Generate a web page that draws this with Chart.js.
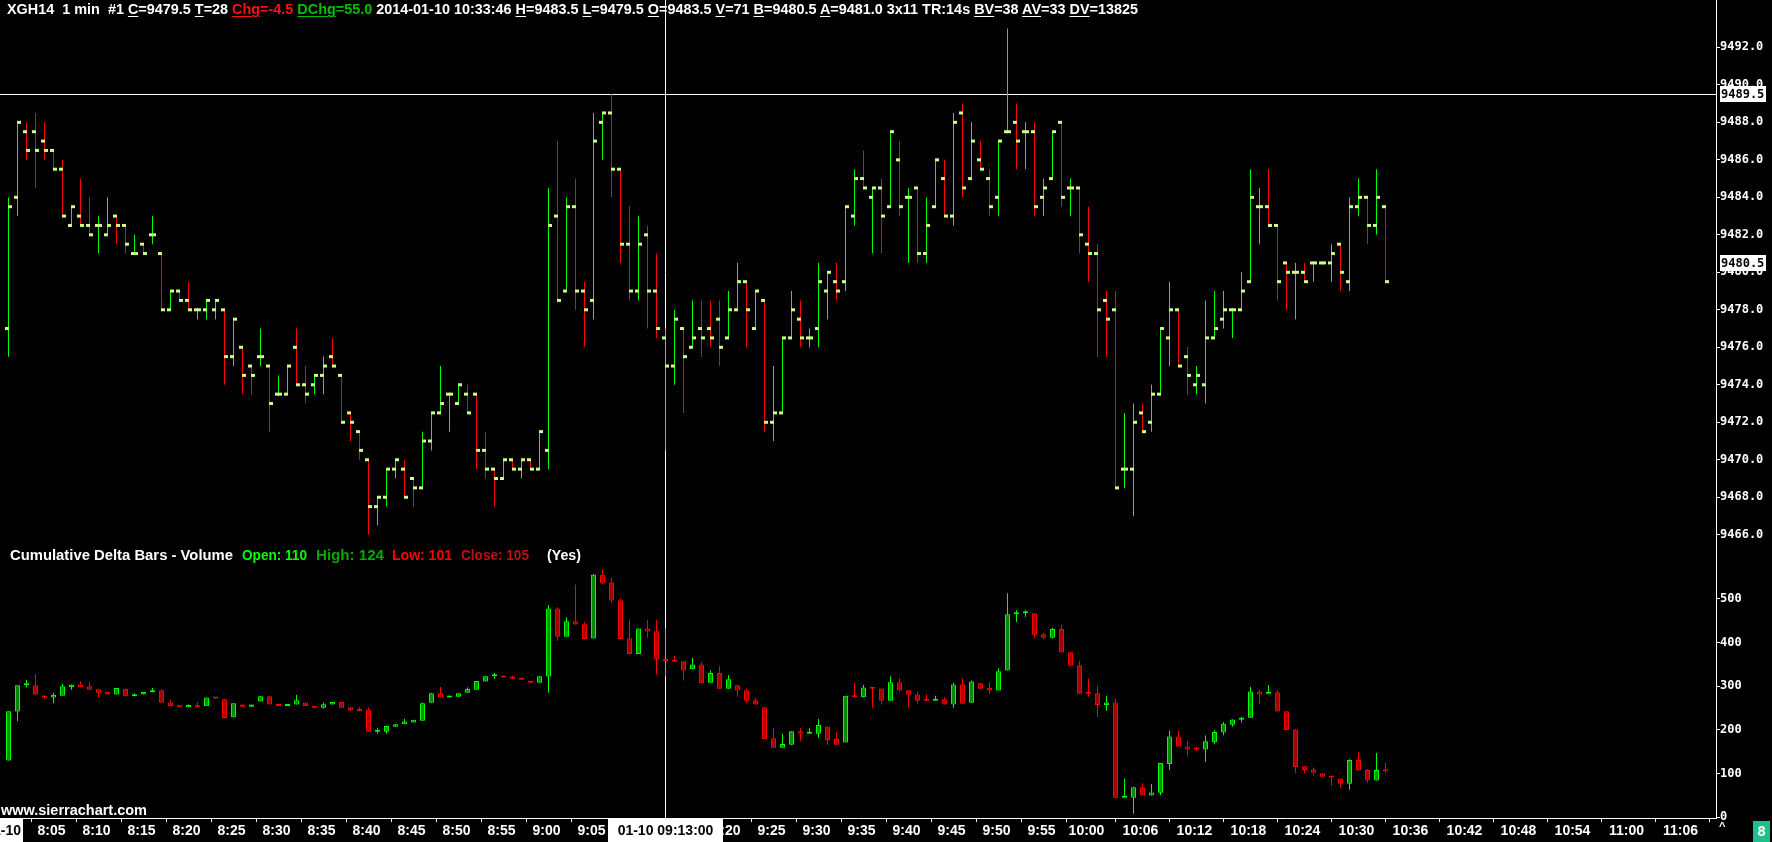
<!DOCTYPE html>
<html><head><meta charset="utf-8">
<script src="https://cdn.jsdelivr.net/npm/chart.js@4.4.1/dist/chart.umd.min.js"></script>
<style>
html,body{margin:0;padding:0;background:#000;width:1772px;height:842px;overflow:hidden;}
#wrap{position:relative;width:1772px;height:842px;background:#000;}
canvas{position:absolute;left:0;}
#cTop{top:0;}
#cBot{top:545px;}
.txt{position:absolute;white-space:pre;font-family:"Liberation Sans",Arial,sans-serif;font-weight:bold;color:#fff;transform-origin:0 0;font-size:14px;line-height:14px;}
.u{text-decoration:underline;text-decoration-thickness:1px;text-underline-offset:2px;}
</style></head><body><div id="wrap">
<canvas id="cTop" width="1772" height="545"></canvas>
<canvas id="cBot" width="1772" height="297"></canvas>
<div id="hdr" class="txt" style="left:7px;top:2px;">XGH14  1 min  #1 <span class="u">C</span>=9479.5 <span class="u">T</span>=28 <span style="color:#ff1010"><span class="u">Chg</span>=-4.5</span> <span style="color:#00c000"><span class="u">DChg</span>=55.0</span> 2014-01-10 10:33:46 <span class="u">H</span>=9483.5 <span class="u">L</span>=9479.5 <span class="u">O</span>=9483.5 <span class="u">V</span>=71 <span class="u">B</span>=9480.5 <span class="u">A</span>=9481.0 3x11 TR:14s <span class="u">BV</span>=38 <span class="u">AV</span>=33 <span class="u">DV</span>=13825</div>
<div id="cd1" class="txt" style="left:10px;top:548px;">Cumulative Delta Bars - Volume</div>
<div id="cd2" class="txt" style="left:242px;top:548px;color:#00ff00;">Open: 110</div>
<div id="cd3" class="txt" style="left:316px;top:548px;color:#00a800;">High: 124</div>
<div id="cd4" class="txt" style="left:392px;top:548px;color:#ff0000;">Low: 101</div>
<div id="cd5" class="txt" style="left:461px;top:548px;color:#c01010;">Close: 105</div>
<div id="cd6" class="txt" style="left:547px;top:548px;">(Yes)</div>
<div id="www" class="txt" style="left:1px;top:803px;">www.sierrachart.com</div>
<div class="txt" style="left:1719px;top:819px;font-size:11px;">^</div>
<div class="txt" style="left:1753px;top:821px;width:17px;height:21px;line-height:21px;background:#1dbf8c;text-align:center;">8</div>
</div>
<script>
// ---------- DATA ----------
const categories = [];
for (let h = 8; h <= 11; h++) for (let m = 0; m < 60; m++) { if (categories.length < 190) categories.push(h + ':' + String(m).padStart(2, '0')); }

const tickLabels = ['8:05','8:10','8:15','8:20','8:25','8:30','8:35','8:40','8:45','8:50','8:55','9:00','9:05','9:10','9:15','9:20','9:25','9:30','9:35','9:40','9:45','9:50','9:55','10:00','10:06','10:12','10:18','10:24','10:30','10:36','10:42','10:48','10:54','11:00','11:06'];
const priceTicks = [9466,9468,9470,9472,9474,9476,9478,9480,9482,9484,9486,9488,9490,9492];
const deltaTicks = [0,100,200,300,400,500];

const priceOpen = [9477.0,9484.0,9487.5,9487.5,9487.0,9486.5,9485.5,9482.5,9483.0,9482.5,
9482.5,9482.0,9483.0,9482.5,9481.0,9481.5,9482.0,9481.0,9478.0,9479.0,
9478.5,9478.0,9478.0,9478.0,9478.0,9475.5,9476.0,9475.0,9475.5,9475.0,
9473.5,9473.5,9476.0,9474.0,9474.0,9474.5,9475.5,9474.5,9472.5,9471.5,
9470.0,9467.5,9468.0,9469.5,9469.5,9469.0,9468.5,9471.0,9472.5,9473.5,
9473.0,9473.5,9473.5,9470.5,9469.5,9469.0,9470.0,9469.5,9470.0,9469.5,
9470.5,9483.0,9479.0,9483.5,9479.0,9478.5,9488.0,9488.5,9485.5,9481.5,
9479.0,9482.0,9479.0,9476.5,9475.0,9477.0,9476.0,9477.0,9477.0,9477.5,
9476.5,9478.0,9479.5,9477.0,9478.5,9472.0,9472.5,9476.5,9477.5,9476.5,
9477.0,9479.0,9479.5,9479.5,9483.0,9485.0,9484.0,9484.5,9483.5,9486.0,
9484.0,9484.5,9481.0,9483.5,9485.0,9483.0,9488.5,9485.0,9486.0,9485.0,
9484.0,9487.5,9488.0,9487.5,9487.5,9484.0,9485.0,9488.0,9484.5,9484.5,
9481.5,9481.0,9478.5,9478.0,9469.5,9469.5,9472.5,9472.0,9473.5,9476.5,
9478.0,9475.5,9474.0,9474.0,9476.5,9477.5,9478.0,9478.0,9479.5,9483.5,
9483.5,9482.5,9480.5,9480.0,9480.0,9480.5,9480.5,9480.5,9481.5,9479.5,
9483.5,9484.0,9482.5,9483.5];
const priceHigh = [9484.0,9488.0,9488.0,9488.5,9488.0,9486.5,9486.0,9483.5,9485.0,9484.0,
9483.0,9484.0,9483.0,9482.5,9482.0,9481.5,9483.0,9481.0,9479.0,9479.0,
9479.5,9478.0,9478.5,9478.5,9478.0,9477.5,9476.0,9475.0,9477.0,9475.0,
9474.5,9475.0,9477.0,9475.0,9474.5,9475.5,9476.5,9474.5,9472.5,9471.5,
9470.0,9468.0,9469.5,9470.0,9470.0,9469.0,9471.5,9472.5,9475.0,9473.5,
9474.0,9474.0,9473.5,9471.5,9469.5,9470.0,9470.0,9470.0,9470.0,9471.5,
9484.5,9487.0,9484.0,9485.0,9479.5,9488.5,9488.5,9489.5,9485.5,9483.5,
9483.0,9482.5,9481.0,9477.0,9478.0,9477.0,9478.5,9478.5,9478.5,9478.5,
9479.0,9480.5,9479.5,9479.0,9478.5,9475.0,9476.5,9479.0,9478.5,9477.0,
9480.5,9480.0,9480.5,9483.5,9485.5,9486.5,9484.5,9485.0,9487.5,9487.0,
9484.5,9484.5,9484.0,9486.0,9486.0,9488.5,9489.0,9488.0,9487.0,9485.5,
9487.0,9493.0,9489.0,9488.0,9488.0,9485.0,9487.5,9488.0,9485.0,9484.5,
9483.5,9481.5,9479.0,9479.0,9472.5,9473.0,9473.0,9474.0,9477.0,9479.5,
9478.0,9476.0,9475.0,9478.5,9479.0,9479.0,9478.0,9480.0,9485.5,9484.5,
9485.5,9482.5,9480.5,9480.5,9480.5,9480.5,9480.5,9481.5,9481.5,9484.0,
9485.0,9484.0,9485.5,9483.5];
const priceLow = [9475.5,9483.0,9486.0,9484.5,9486.0,9485.5,9483.0,9482.5,9482.5,9482.0,
9481.0,9482.0,9481.5,9481.0,9481.0,9481.0,9481.5,9478.0,9478.0,9478.5,
9478.0,9477.5,9477.5,9477.5,9474.0,9475.0,9473.5,9473.5,9475.0,9471.5,
9473.5,9473.5,9474.0,9473.0,9473.5,9473.5,9475.0,9472.0,9471.0,9470.0,
9466.0,9466.5,9467.5,9469.0,9468.0,9467.5,9468.5,9470.5,9472.5,9471.5,
9473.0,9472.5,9469.5,9469.0,9467.5,9469.0,9469.5,9469.0,9469.5,9469.5,
9469.5,9478.5,9479.0,9478.0,9476.0,9477.5,9486.0,9484.0,9480.5,9478.5,
9478.5,9477.0,9476.5,9470.5,9474.0,9472.5,9476.0,9475.5,9476.0,9475.0,
9476.5,9478.0,9476.0,9477.0,9471.5,9471.0,9472.5,9476.5,9476.0,9476.0,
9476.0,9477.5,9478.5,9479.0,9482.5,9484.5,9481.0,9481.0,9483.5,9483.0,
9480.5,9480.5,9480.5,9483.5,9483.0,9482.5,9484.0,9485.0,9485.5,9483.0,
9483.0,9487.5,9485.5,9485.5,9483.0,9483.0,9485.0,9483.5,9483.0,9481.0,
9479.5,9475.5,9475.5,9468.5,9468.5,9467.0,9471.5,9471.5,9473.5,9475.0,
9475.0,9473.5,9473.5,9473.0,9476.5,9477.0,9476.5,9478.0,9479.5,9481.5,
9482.5,9478.5,9478.0,9477.5,9479.5,9479.5,9480.5,9479.5,9479.0,9479.0,
9483.0,9481.5,9482.0,9479.5];
const priceClose = [9483.5,9488.0,9486.5,9486.5,9486.5,9485.5,9483.0,9483.5,9482.5,9482.0,
9482.5,9482.5,9482.5,9481.5,9481.0,9481.0,9482.0,9478.0,9479.0,9478.5,
9478.0,9478.0,9478.5,9478.5,9475.5,9477.5,9474.5,9474.5,9475.5,9473.0,
9473.5,9475.0,9474.0,9473.5,9474.5,9475.0,9475.0,9472.0,9472.0,9470.5,
9467.5,9468.0,9469.5,9470.0,9468.0,9468.5,9471.0,9472.5,9473.0,9473.5,
9474.0,9472.5,9470.5,9469.5,9469.0,9470.0,9469.5,9470.0,9469.5,9471.5,
9482.5,9478.5,9483.5,9479.0,9478.0,9487.0,9488.5,9485.5,9481.5,9479.0,
9481.5,9479.0,9477.0,9475.0,9477.5,9475.5,9476.5,9476.5,9476.5,9476.0,
9478.0,9479.5,9478.0,9479.0,9472.0,9472.5,9476.5,9478.0,9476.5,9476.5,
9479.5,9480.0,9479.0,9483.5,9485.0,9484.5,9484.5,9483.0,9487.5,9483.5,
9484.0,9481.0,9482.5,9486.0,9483.0,9488.0,9484.5,9487.0,9485.5,9483.5,
9487.0,9487.5,9487.0,9487.5,9483.5,9484.5,9487.5,9484.0,9484.5,9482.0,
9481.0,9478.0,9477.5,9468.5,9469.5,9472.0,9471.5,9473.5,9477.0,9478.0,
9475.0,9474.5,9474.5,9476.5,9477.0,9478.0,9478.0,9479.0,9484.0,9483.5,
9482.5,9479.5,9480.0,9480.0,9479.5,9480.5,9480.5,9481.0,9480.0,9483.5,
9484.0,9482.5,9484.0,9479.5];

const deltaOpen = [130,242,302,302,279,274,278,298,304,300,
293,287,281,294,277,281,286,291,263,256,
252,256,254,274,270,229,258,253,265,277,
258,255,258,263,255,251,258,264,252,248,
246,196,196,207,213,217,221,262,284,274,
276,285,292,311,323,324,322,319,311,308,
322,478,413,449,442,409,555,538,497,410,
374,432,426,361,360,357,339,350,308,330,
294,302,291,268,252,181,159,166,197,191,
191,208,179,171,278,275,297,295,267,309,
291,281,268,267,270,258,304,262,307,296,
290,336,465,467,467,419,411,431,378,348,
284,284,257,263,45,45,69,50,56,122,
185,162,156,155,172,194,212,223,228,288,
283,286,243,201,117,110,101,95,89,77,
131,108,84,110];
const deltaHigh = [243,302,314,328,279,285,305,304,312,310,
293,287,296,294,284,287,296,293,268,256,
258,262,274,274,270,261,258,258,277,277,
258,259,280,263,255,262,264,264,252,252,
252,205,209,213,225,223,263,284,298,278,
284,297,312,323,330,324,324,319,311,323,
486,481,458,532,447,557,568,548,500,452,
432,452,452,432,369,357,365,355,336,346,
325,302,294,273,252,204,191,197,204,204,
225,208,195,278,307,303,297,295,323,318,
291,286,281,278,275,308,317,313,307,309,
341,513,474,474,467,423,434,440,378,358,
317,301,278,272,89,70,78,76,124,198,
198,175,160,187,199,218,224,230,298,292,
303,291,243,201,117,114,101,95,89,133,
149,110,147,124];
const deltaLow = [130,220,297,280,270,261,278,292,298,292,
274,281,281,277,277,281,286,262,255,252,
252,252,254,272,226,229,253,253,265,258,
255,255,258,255,251,249,258,251,243,243,
196,192,191,207,213,217,221,262,274,274,
276,285,292,311,317,320,317,315,308,308,
285,404,413,441,407,409,534,491,407,374,
374,411,326,322,356,313,339,306,308,294,
294,276,262,258,179,159,159,166,175,191,
182,166,166,171,275,275,251,258,267,288,
251,261,267,267,258,250,260,262,294,282,
290,336,447,459,411,408,409,377,347,283,
276,230,244,45,45,8,50,50,51,108,
162,139,152,127,168,188,207,217,228,259,
283,242,200,102,101,95,93,72,67,63,
107,79,84,101];
const deltaClose = [243,302,303,281,274,280,300,304,298,292,
285,281,296,277,281,287,291,262,255,252,
257,252,274,272,227,261,253,258,277,258,
255,259,268,255,251,259,264,251,245,243,
196,198,209,213,219,223,261,284,274,278,
284,294,312,323,324,320,317,315,308,323,
478,413,449,441,408,555,535,496,408,374,
432,425,361,358,356,336,350,307,330,294,
316,290,267,258,179,159,168,197,191,193,
211,177,166,278,275,297,294,267,309,290,
281,267,267,270,258,304,260,311,294,290,
334,465,467,468,418,411,431,377,347,283,
283,257,263,45,46,69,50,57,124,185,
162,155,155,174,195,214,224,227,288,281,
285,242,200,115,108,102,93,91,77,131,
107,84,108,105];

const crosshairTime = '9:13';
const crosshairLabel = '01-10 09:13:00';
const dateLabel = '01-10';
const crosshairPrice = 9489.5;
const bidPrice = 9480.5;

// ---------- STYLE / LAYOUT ----------
const UP = '#00ff00', DOWN = '#ff0000', MARK = '#ccff88', SEL = '#22d0ee';
const UP_FILL = '#008c00', DOWN_FILL = '#a80000';
const PX_PER_BAR = 9, PLOT_W = 1716, AXIS_W = 56;
const X_MIN = -8.5 / PX_PER_BAR, X_MAX = X_MIN + PLOT_W / PX_PER_BAR;
const P_MIN = 9465.456, P_MAX = 9494.523;
const D_MIN = -1.6, D_MAX = 623.1;
const MONO = '"DejaVu Sans Mono", monospace';
const NARROW = '"Liberation Sans Narrow", "Liberation Sans", Arial, sans-serif';
const crossIdx = categories.indexOf(crosshairTime);
const tickIdx = tickLabels.map(t => categories.indexOf(t));
const idx = priceOpen.map((_, i) => i);
const mOff = 1.5 / PX_PER_BAR;

const priceColor = idx.map(i => i === crossIdx ? SEL : (priceClose[i] >= priceOpen[i] ? UP : DOWN));
const deltaUp = idx.map(i => deltaClose[i] >= deltaOpen[i]);

function drawBox(ctx, text, x0, y0, w, h, font, align) {
  ctx.save();
  ctx.fillStyle = '#fff';
  ctx.fillRect(x0, y0, w, h);
  ctx.fillStyle = '#000';
  ctx.font = font;
  ctx.textBaseline = 'middle';
  ctx.textAlign = align;
  const tx = align === 'right' ? x0 + w - 2 : (align === 'center' ? x0 + w / 2 : x0 + 1);
  ctx.fillText(text, tx, y0 + h / 2 + 1);
  ctx.restore();
}

const common = {
  responsive: false, animation: false, devicePixelRatio: 1, events: [],
  layout: { padding: 0 },
  plugins: { legend: { display: false }, tooltip: { enabled: false } }
};
const barDefaults = { type: 'bar', grouped: false, borderWidth: 0, inflateAmount: 0, borderSkipped: false };

const topOverlay = {
  id: 'topOverlay',
  beforeDatasetsDraw(chart) {
    const { ctx, chartArea, scales } = chart;
    const cx = Math.floor(scales.x.getPixelForValue(crossIdx)) + 0.5;
    const cy = Math.round(scales.y.getPixelForValue(crosshairPrice)) + 0.5;
    ctx.save();
    ctx.strokeStyle = '#fff'; ctx.lineWidth = 1;
    ctx.beginPath();
    ctx.moveTo(cx, 0); ctx.lineTo(cx, chart.height);
    ctx.moveTo(chartArea.left, cy); ctx.lineTo(chartArea.right, cy);
    ctx.stroke();
    ctx.restore();
  },
  afterDraw(chart) {
    const { ctx, chartArea, scales } = chart;
    const f = 'bold 12px ' + MONO;
    [crosshairPrice, bidPrice].forEach(p => {
      const py = scales.y.getPixelForValue(p);
      drawBox(ctx, p.toFixed(1), chartArea.right + 4, Math.round(py) - 8, 46, 16, f, 'left');
    });
  }
};

new Chart(document.getElementById('cTop'), {
  data: {
    datasets: [
      Object.assign({}, barDefaults, { order: 0, barThickness: 4, backgroundColor: MARK,
        data: idx.map(i => ({ x: i - mOff, y: [priceOpen[i] - 0.08, priceOpen[i] + 0.08] })) }),
      Object.assign({}, barDefaults, { order: 0, barThickness: 4, backgroundColor: MARK,
        data: idx.map(i => ({ x: i + mOff, y: [priceClose[i] - 0.08, priceClose[i] + 0.08] })) }),
      Object.assign({}, barDefaults, { order: 1, barThickness: 1, backgroundColor: priceColor,
        data: idx.map(i => ({ x: i, y: [priceLow[i], priceHigh[i]] })) })
    ]
  },
  options: Object.assign({}, common, {
    scales: {
      x: { type: 'linear', min: X_MIN, max: X_MAX, display: false, offset: false },
      y: {
        type: 'linear', position: 'right', min: P_MIN, max: P_MAX,
        afterFit: s => { s.width = AXIS_W; },
        afterBuildTicks: s => { s.ticks = priceTicks.map(v => ({ value: v })); },
        ticks: { color: '#fff', padding: 0, font: { family: MONO, weight: 'bold', size: 12, lineHeight: 0.01 },
          callback: v => Number(v).toFixed(1) },
        grid: { drawOnChartArea: false, color: '#fff', tickLength: 4 },
        border: { display: true, color: '#fff', width: 1 }
      }
    }
  }),
  plugins: [topOverlay]
});

const botOverlay = {
  id: 'botOverlay',
  beforeDatasetsDraw(chart) {
    const { ctx, chartArea, scales } = chart;
    const cx = Math.floor(scales.x.getPixelForValue(crossIdx)) + 0.5;
    ctx.save();
    ctx.strokeStyle = '#fff'; ctx.lineWidth = 1;
    ctx.beginPath();
    ctx.moveTo(cx, 0); ctx.lineTo(cx, chartArea.bottom);
    ctx.stroke();
    ctx.restore();
  },
  afterDraw(chart) {
    const { ctx, chartArea, scales } = chart;
    const f = 'bold 14px ' + NARROW;
    const cx = scales.x.getPixelForValue(crossIdx);
    drawBox(ctx, crosshairLabel, Math.round(cx - 58), chartArea.bottom + 1, 115, chart.height - chartArea.bottom - 1, f, 'center');
    const x0 = scales.x.getPixelForValue(0);
    drawBox(ctx, dateLabel, Math.round(x0) - 22, chartArea.bottom + 1, 36, chart.height - chartArea.bottom - 1, f, 'right');
  }
};

new Chart(document.getElementById('cBot'), {
  data: {
    datasets: [
      Object.assign({}, barDefaults, { order: 0, barThickness: 5, borderWidth: 1, minBarLength: 2,
        backgroundColor: idx.map(i => deltaUp[i] ? UP_FILL : DOWN_FILL),
        borderColor: idx.map(i => deltaUp[i] ? UP : DOWN),
        data: idx.map(i => ({ x: i, y: [deltaOpen[i], deltaClose[i]] })) }),
      Object.assign({}, barDefaults, { order: 1, barThickness: 1,
        backgroundColor: idx.map(i => i === crossIdx ? SEL : (deltaUp[i] ? UP : DOWN)),
        data: idx.map(i => ({ x: i, y: [deltaLow[i], deltaHigh[i]] })) })
    ]
  },
  options: Object.assign({}, common, {
    scales: {
      x: {
        type: 'linear', position: 'bottom', min: X_MIN, max: X_MAX, offset: false,
        afterFit: s => { s.height = 24; },
        afterBuildTicks: s => { s.ticks = tickIdx.map(v => ({ value: v })); },
        ticks: { color: '#fff', padding: 1, maxRotation: 0, minRotation: 0, autoSkip: false, labelOffset: -2,
          font: { family: NARROW, weight: 'bold', size: 14 },
          callback: v => categories[v] },
        grid: { drawOnChartArea: false, color: '#fff', tickLength: 4 },
        border: { display: true, color: '#fff', width: 1 }
      },
      y: {
        type: 'linear', position: 'right', min: D_MIN, max: D_MAX,
        afterFit: s => { s.width = AXIS_W; },
        afterBuildTicks: s => { s.ticks = deltaTicks.map(v => ({ value: v })); },
        ticks: { color: '#fff', padding: 0, font: { family: MONO, weight: 'bold', size: 12, lineHeight: 0.01 },
          callback: v => String(v) },
        grid: { drawOnChartArea: false, color: '#fff', tickLength: 4 },
        border: { display: true, color: '#fff', width: 1 }
      }
    }
  }),
  plugins: [botOverlay]
});

// fit overlay texts to the widths seen in the reference
function fit(id, w) {
  const el = document.getElementById(id);
  const r = el.getBoundingClientRect().width;
  if (r > 0) el.style.transform = 'scaleX(' + (w / r) + ')';
}
fit('hdr', 1131); fit('cd1', 223); fit('cd2', 65); fit('cd3', 68); fit('cd4', 60); fit('cd5', 68); fit('cd6', 34); fit('www', 146);
</script>
</body></html>
